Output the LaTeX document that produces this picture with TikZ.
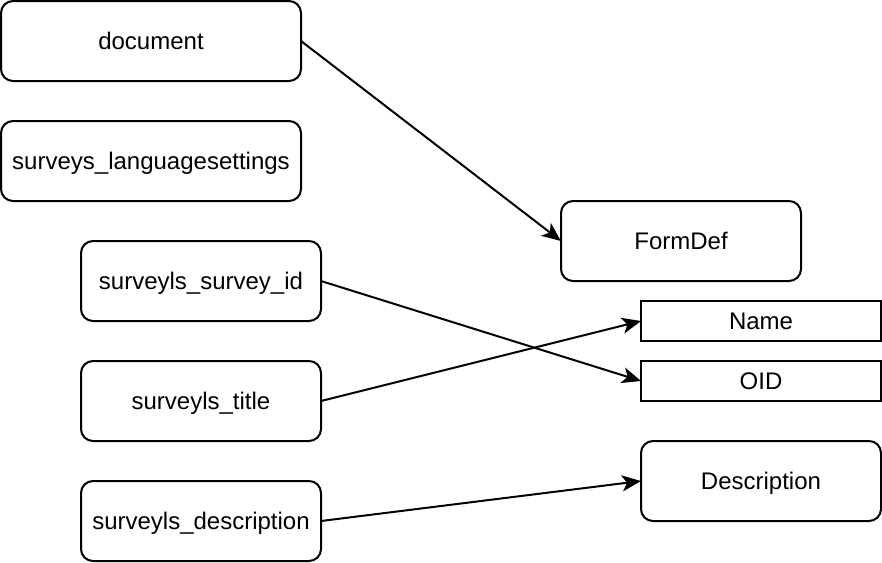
\documentclass[tikz,border=0pt]{standalone}
\usepackage{fontspec}
\setmainfont{Liberation Sans}
\usetikzlibrary{arrows.meta}
\begin{document}
\begin{tikzpicture}[x=1pt,y=-1pt,
  txt/.style={font=\fontsize{24}{28}\selectfont, text height=21.7pt, text depth=5.1pt},
  box/.style={draw, line width=2pt, rounded corners=12pt, minimum width=300pt, minimum height=80pt,
    inner sep=0pt, outer sep=0pt, txt},
  wbox/.style={box, minimum width=240pt},
  fbox/.style={draw, line width=2pt, minimum width=240pt, minimum height=40pt,
    inner sep=0pt, outer sep=0pt, txt},
  conn/.style={line width=2pt, -{Stealth[length=19pt,width=16pt,inset=5pt]}}]
\useasboundingbox (0,0) rectangle (882,562);
\node[box] (doc) at (151,41) {document};
\node[box] (lang) at (151,161) {surveys\_languagesettings};
\node[wbox] (sid) at (201,281) {surveyls\_survey\_id};
\node[wbox] (title) at (201,401) {surveyls\_title};
\node[wbox] (sdesc) at (201,521) {surveyls\_description};
\node[wbox] (form) at (681,241) {FormDef};
\node[fbox] (name) at (761,321) {Name};
\node[fbox] (oid) at (761,381) {OID};
\node[wbox] (desc) at (761,481) {Description};
\draw[conn] (doc.east) -- (form.west);
\draw[conn] (sid.east) -- (oid.west);
\draw[conn] (title.east) -- (name.west);
\draw[conn] (sdesc.east) -- (desc.west);
\end{tikzpicture}
\end{document}
